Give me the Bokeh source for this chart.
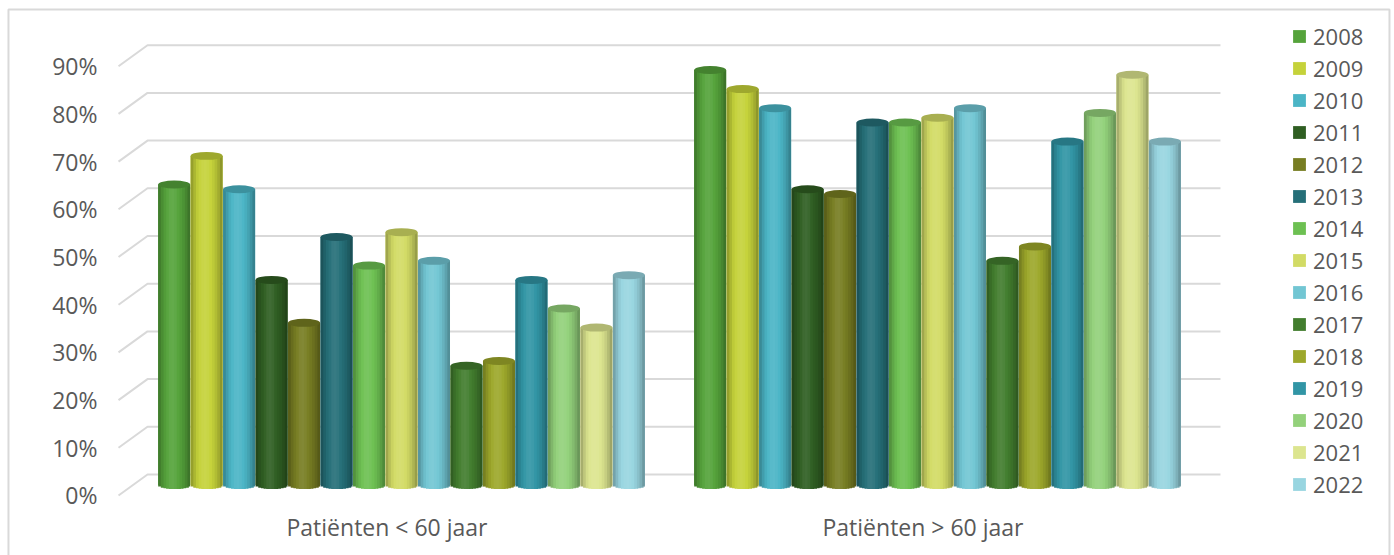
import numpy as np
from bokeh.plotting import figure
from bokeh.models import Range1d, Legend, LegendItem, ColumnDataSource
from bokeh.core.properties import value
from bokeh.embed import file_html
from bokeh.resources import INLINE

# ---- data -------------------------------------------------------------
categories = ["Patiënten < 60 jaar", "Patiënten > 60 jaar"]
years = ["2008", "2009", "2010", "2011", "2012", "2013", "2014", "2015",
         "2016", "2017", "2018", "2019", "2020", "2021", "2022"]
under_60 = [63, 69, 62, 43, 34, 52, 46, 53, 47, 25, 26, 43, 37, 33, 44]
over_60 = [87, 83, 79, 62, 61, 76, 76, 77, 79, 47, 50, 72, 78, 86, 72]
year_colors = ["#55A33B", "#C5D23A", "#4BB5C6", "#2F5E22", "#777D22",
               "#256F78", "#6DC052", "#D2DB65", "#72C6D3", "#427D2E",
               "#9DA82B", "#3195A5", "#93D17B", "#DCE58F", "#98D5E0"]
y_ticks = [0, 10, 20, 30, 40, 50, 60, 70, 80, 90]
y_tick_labels = [f"{t}%" for t in y_ticks]

# ---- geometry of the pseudo-3D box (category units / percent) ----------
PITCH = 0.0606          # distance between neighbouring cylinders
BAR_W = PITCH * 0.985   # cylinder diameter
DX_MID, DY_MID = 0.0271, 2.2    # shift from front plane to bar depth
DX_BACK, DY_BACK = 0.0541, 4.4  # shift from front plane to back wall
WALL_X0 = -0.5009       # left front corner of the gridlines
WALL_X1 = 1.5550        # right end of the back-wall gridlines
CAP_H = 8               # ellipse height of the cylinder caps (px)
RIM = 0.84              # half cap height in percent units
LABEL_X = -0.5401
CAT_Y = -6.7
FONT = "Open Sans"
TEXT_COLOR = "#595959"
GRID_COLOR = "#D9D9D9"

# brightness across a cylinder, left to right
profile = [0.76, 0.87, 0.96, 1.02, 1.06, 1.07, 1.05, 1.01, 0.96, 0.9, 0.82, 0.72]


def shade(hex_color, f):
    rgb = np.array([int(hex_color[i:i + 2], 16) for i in (1, 3, 5)], float)
    if f <= 1:
        rgb = rgb * f
    else:
        rgb = rgb + (255 - rgb) * (f - 1) * 1.2
    rgb = np.clip(rgb, 0, 255).round().astype(int)
    return "#%02x%02x%02x" % tuple(rgb)


n_strips = len(profile)
edges = np.linspace(0, 1, n_strips + 1)
mids = (edges[:-1] + edges[1:]) / 2
rim = np.sqrt(1 - (2 * mids - 1) ** 2)
overlap = 0.0025  # hides anti-aliasing seams between strips

series_list = [under_60, over_60]
strips = dict(left=[], right=[], bottom=[], top=[], color=[])
caps = dict(x=[], y=[], color=[])
bodies = {j: dict(left=[], right=[], bottom=[], top=[]) for j in range(len(years))}
for ci, series in enumerate(series_list):
    for j, v in enumerate(series):
        xc = ci + DX_MID + (j - (len(series) - 1) / 2) * PITCH
        x0 = xc - BAR_W / 2
        bodies[j]["left"].append(x0)
        bodies[j]["right"].append(x0 + BAR_W)
        bodies[j]["bottom"].append(DY_MID)
        bodies[j]["top"].append(DY_MID + v)
        for k in range(n_strips):
            strips["left"].append(x0 + edges[k] * BAR_W)
            extra = overlap if k < n_strips - 1 else 0
            strips["right"].append(x0 + edges[k + 1] * BAR_W + extra)
            strips["bottom"].append(DY_MID - RIM * rim[k])
            strips["top"].append(DY_MID + v)
            strips["color"].append(shade(year_colors[j], profile[k]))
        caps["x"].append(xc)
        caps["y"].append(DY_MID + v)
        caps["color"].append(shade(year_colors[j], 0.8))

# ---- figure -------------------------------------------------------------
p = figure(width=1394, height=555, output_backend="svg", toolbar_location=None,
           x_range=Range1d(-0.72108, 1.87966), y_range=Range1d(-12.579, 103.774),
           min_border=0, outline_line_color=None, background_fill_color="white")
p.axis.visible = False
p.grid.visible = False

# outer chart border
p.quad(left=[-0.7062], right=[1.8703], top=[101.89], bottom=[-20],
       fill_color=None, line_color=GRID_COLOR, line_width=2)

# perspective gridlines: short diagonal on the side wall, then the back wall
p.multi_line(xs=[[WALL_X0, WALL_X0 + DX_BACK, WALL_X1] for _ in y_ticks],
             ys=[[t, t + DY_BACK, t + DY_BACK] for t in y_ticks],
             line_color=GRID_COLOR, line_width=2)

# plain body of every cylinder, one renderer per year (also feeds the legend)
items = []
for j, (yr, c) in enumerate(zip(years, year_colors)):
    r = p.quad(source=ColumnDataSource(bodies[j]), left="left", right="right",
               bottom="bottom", top="top", fill_color=c, line_color=None)
    items.append(LegendItem(label=yr, renderers=[r]))

# shaded cylinder surface and caps
p.quad(left="left", right="right", bottom="bottom", top="top",
       fill_color="color", line_color=None, source=ColumnDataSource(strips))
p.ellipse(x="x", y="y", width=BAR_W, height=CAP_H, height_units="screen",
          fill_color="color", line_color=None, source=ColumnDataSource(caps))

# value axis labels
p.text(x=[LABEL_X] * len(y_ticks), y=y_ticks, text=y_tick_labels,
       text_align="right", text_baseline="middle", text_font=value(FONT),
       text_font_size="23px", text_color=TEXT_COLOR)

# category labels
p.text(x=[0, 1], y=[CAT_Y, CAT_Y], text=categories, text_align="center",
       text_baseline="middle", text_font=value(FONT), text_font_size="23px",
       text_color=TEXT_COLOR)

# legend
legend = Legend(items=items, location=(1291, 56), orientation="vertical",
                glyph_width=16, glyph_height=16, label_height=30, spacing=2,
                label_standoff=6, padding=0, margin=0,
                label_text_font=FONT, label_text_font_size="22px",
                label_text_color=TEXT_COLOR, border_line_color=None,
                background_fill_alpha=0)
p.add_layout(legend, "center")

open("out.html", "w").write(file_html(p, INLINE))
